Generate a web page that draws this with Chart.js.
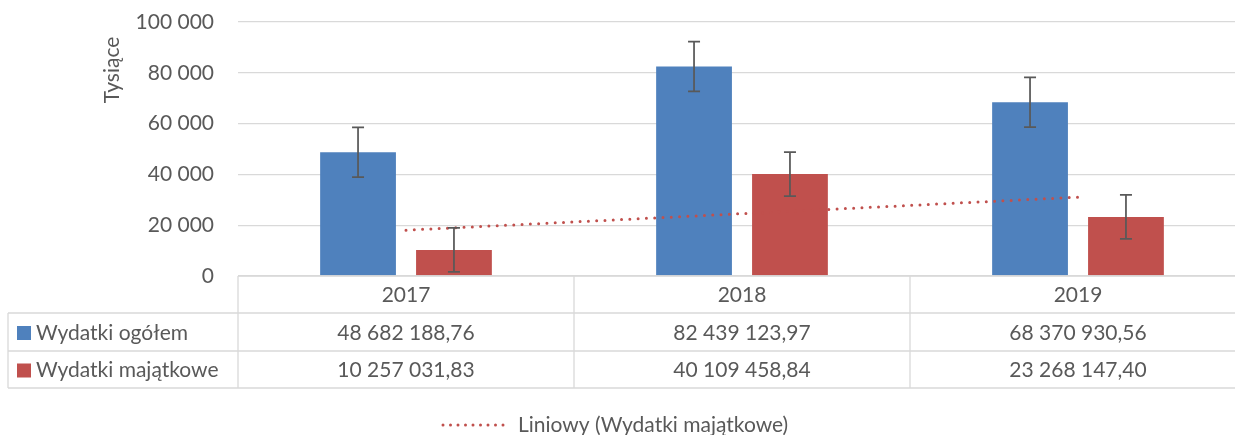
<!DOCTYPE html>
<html>
<head>
<meta charset="utf-8">
<script src="https://cdn.jsdelivr.net/npm/chart.js@4.4.0/dist/chart.umd.min.js"></script>
<style>
  html, body { margin: 0; padding: 0; background: #fff; overflow: hidden; }
  #wrap { width: 1250px; height: 435px; }
</style>
</head>
<body>
<div id="wrap"><canvas id="chart" width="1250" height="435"></canvas></div>
<script>
// dane z wykresu
const lata = ['2017', '2018', '2019'];
const wydatkiOgolem = [48682188.76, 82439123.97, 68370930.56];
const wydatkiMajatkowe = [10257031.83, 40109458.84, 23268147.40];
// słupki błędów
const bladOgolem = [9790000, 9790000, 9790000];
const bladMajatkowe = [8650000, 8650000, 8650000];
// linia trendu (liniowy, wydatki majątkowe)
const trendMajatkowe = [18040000, 24545000, 31050000];
const osYMax = 100000000;
const osYKrok = 20000000;

const SZARY = '#595959';
const LINIA = '#D9D9D9';
const NIEBIESKI = '#4F81BD';
const CZERWONY = '#C0504D';
const FONT = '21px Lato';

function fmt(v, dec) {
  let [i, d] = v.toFixed(dec).split('.');
  i = i.replace(/\B(?=(\d{3})+(?!\d))/g, ' ');
  return d ? i + ',' + d : i;
}

// słupki błędów
const errorBars = {
  id: 'errorBars',
  afterDatasetsDraw(chart) {
    const ctx = chart.ctx;
    const y = chart.scales.y;
    [[0, bladOgolem], [1, bladMajatkowe]].forEach(([di, err]) => {
      const meta = chart.getDatasetMeta(di);
      meta.data.forEach((bar, i) => {
        const v = chart.data.datasets[di].data[i];
        const top = y.getPixelForValue(v + err[i]);
        const bot = y.getPixelForValue(v - err[i]);
        ctx.save();
        ctx.strokeStyle = SZARY;
        ctx.lineWidth = 1.75;
        ctx.beginPath();
        ctx.moveTo(bar.x, top); ctx.lineTo(bar.x, bot);
        ctx.moveTo(bar.x - 6, top); ctx.lineTo(bar.x + 6, top);
        ctx.moveTo(bar.x - 6, bot); ctx.lineTo(bar.x + 6, bot);
        ctx.stroke();
        ctx.restore();
      });
    });
  }
};

// tabela danych + tytuł osi + legenda
const dataTable = {
  id: 'dataTable',
  afterDraw(chart) {
    const ctx = chart.ctx;
    const area = chart.chartArea;
    const x = chart.scales.x;
    const half = (x.getPixelForValue(1) - x.getPixelForValue(0)) / 2;
    const rows = [area.bottom, 313, 351, 388];
    const left = 8;

    ctx.save();
    ctx.strokeStyle = LINIA;
    ctx.lineWidth = 1.3;
    ctx.beginPath();
    ctx.moveTo(area.left, rows[0]); ctx.lineTo(area.right, rows[0]);
    for (let r = 1; r < rows.length; r++) {
      ctx.moveTo(left, rows[r]); ctx.lineTo(area.right, rows[r]);
    }
    ctx.moveTo(left, rows[1]); ctx.lineTo(left, rows[3]);
    lata.forEach((l, i) => {
      const xl = x.getPixelForValue(i) - half;
      ctx.moveTo(xl, rows[0]); ctx.lineTo(xl, rows[3]);
    });
    ctx.moveTo(area.right, rows[0]); ctx.lineTo(area.right, rows[3]);
    ctx.stroke();

    ctx.fillStyle = SZARY;
    ctx.font = FONT;
    ctx.textAlign = 'center';
    ctx.textBaseline = 'middle';
    const mid = r => (rows[r] + rows[r + 1]) / 2 + 1;
    lata.forEach((l, i) => {
      const cx = x.getPixelForValue(i);
      ctx.fillText(l, cx, mid(0));
      ctx.fillText(fmt(wydatkiOgolem[i], 2), cx, mid(1));
      ctx.fillText(fmt(wydatkiMajatkowe[i], 2), cx, mid(2));
    });

    ctx.textAlign = 'left';
    [[NIEBIESKI, 'Wydatki ogółem'], [CZERWONY, 'Wydatki majątkowe']].forEach(([c, t], k) => {
      const cy = mid(k + 1);
      ctx.fillStyle = c;
      ctx.fillRect(17, cy - 7, 14, 14);
      ctx.fillStyle = SZARY;
      ctx.fillText(t, 36, cy);
    });

    // tytuł osi Y
    ctx.save();
    ctx.translate(119, 70);
    ctx.rotate(-Math.PI / 2);
    ctx.textAlign = 'center';
    ctx.textBaseline = 'alphabetic';
    ctx.fillText('Tysiące', 0, 0);
    ctx.restore();

    // legenda linii trendu
    ctx.strokeStyle = CZERWONY;
    ctx.lineWidth = 3;
    ctx.lineCap = 'round';
    ctx.setLineDash([0, 7.5]);
    ctx.beginPath();
    ctx.moveTo(443, 425); ctx.lineTo(510, 425);
    ctx.stroke();
    ctx.setLineDash([]);
    ctx.fillStyle = SZARY;
    ctx.textAlign = 'left';
    ctx.textBaseline = 'middle';
    ctx.fillText('Liniowy (Wydatki majątkowe)', 518, 425);
    ctx.restore();
  }
};

Chart.defaults.font.family = 'Lato';
Chart.defaults.font.size = 21;
Chart.defaults.color = SZARY;

new Chart(document.getElementById('chart'), {
  type: 'bar',
  data: {
    labels: lata,
    datasets: [{
      label: 'Wydatki ogółem',
      data: wydatkiOgolem,
      backgroundColor: NIEBIESKI,
      categoryPercentage: 0.571,
      barPercentage: 0.79
    }, {
      label: 'Wydatki majątkowe',
      data: wydatkiMajatkowe,
      backgroundColor: CZERWONY,
      categoryPercentage: 0.571,
      barPercentage: 0.79
    }, {
      type: 'line',
      label: 'Liniowy (Wydatki majątkowe)',
      data: trendMajatkowe,
      borderColor: CZERWONY,
      borderWidth: 3,
      borderDash: [0, 8.3],
      borderCapStyle: 'round',
      pointRadius: 0,
      fill: false,
      order: -1
    }]
  },
  options: {
    responsive: false,
    animation: false,
    layout: { padding: { left: 0, right: 4, top: 22, bottom: 159 } },
    plugins: { legend: { display: false }, tooltip: { enabled: false } },
    scales: {
      x: { display: false },
      y: {
        min: 0,
        max: osYMax,
        border: { display: false },
        grid: {
          color: LINIA,
          lineWidth: 1.3,
          drawTicks: true,
          tickLength: 24,
          tickColor: 'rgba(0,0,0,0)'
        },
        ticks: {
          stepSize: osYKrok,
          padding: 0,
          callback: v => fmt(v / 1000, 0)
        },
        afterFit(scale) { scale.width = 238; }
      }
    }
  },
  plugins: [errorBars, dataTable]
});
</script>
</body>
</html>
